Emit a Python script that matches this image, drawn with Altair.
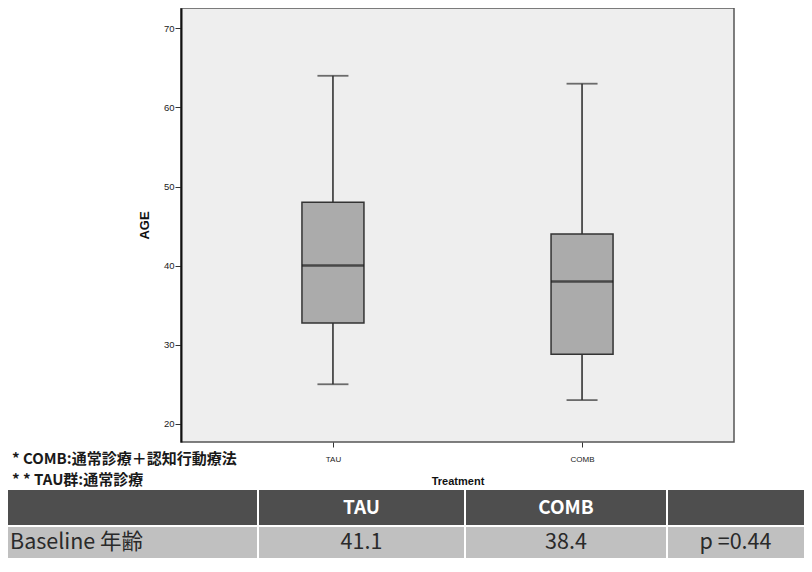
import altair as alt
import pandas as pd

# ---- data ----
treatments = ["TAU", "COMB"]
age_min = [25, 23]
age_q1 = [32.75, 28.8]
age_median = [40, 38]
age_q3 = [48, 44]
age_max = [64, 63]
y_ticks = [20, 30, 40, 50, 60, 70]

note_lines = ["* COMB:通常診療＋認知行動療法", "* * TAU群:通常診療"]
table_header = ["", "TAU", "COMB", ""]
table_row = ["Baseline 年齢", "41.1", "38.4", "p =0.44"]

df = pd.DataFrame({
    "treatment": treatments,
    "min": age_min,
    "q1": age_q1,
    "median": age_median,
    "q3": age_q3,
    "max": age_max,
})

# ---- layout constants (plot-relative pixels) ----
W, H = 553, 434
PAD_L, PAD_R, PAD_B = 173, 70, 116
AX_FONT = "Liberation Sans"
JP_FONT = "Noto Sans CJK JP"

x_enc = alt.X(
    "treatment:N",
    sort=treatments,
    scale=alt.Scale(type="point", padding=0.61),
    axis=alt.Axis(
        title="Treatment", labelAngle=0, labelFont=AX_FONT, labelFontSize=8,
        labelColor="#222", tickSize=5, tickColor="#333", labelPadding=8,
        titleFont=AX_FONT, titleFontSize=11, titleFontWeight="bold",
        titleColor="#111", titlePadding=12, domain=False, grid=False,
    ),
)
y_scale = alt.Scale(domain=[17.7, 72.57], nice=False, zero=False)
y_axis = alt.Axis(
    title="AGE", values=y_ticks, labelFont=AX_FONT, labelFontSize=9.5,
    labelColor="#222", tickSize=6, tickColor="#333", labelPadding=1,
    titleFont=AX_FONT, titleFontSize=13, titleFontWeight="bold",
    titleColor="#111", titlePadding=12, domain=True, domainColor="#111",
    domainWidth=2, grid=False,
)

base = alt.Chart(df)

whisker = base.mark_rule(color="#333", strokeWidth=1.6).encode(
    x=x_enc,
    y=alt.Y("min:Q", scale=y_scale, axis=y_axis),
    y2="max:Q",
)
box = base.mark_bar(size=62, fill="#ababab", stroke="#333", strokeWidth=1.5).encode(
    x=x_enc, y=alt.Y("q1:Q", scale=y_scale), y2="q3:Q"
)
median = base.mark_tick(size=62, thickness=2.5, color="#1e1e1e").encode(
    x=x_enc, y=alt.Y("median:Q", scale=y_scale)
)
cap_lo = base.mark_tick(size=31, thickness=1.8, color="#333").encode(
    x=x_enc, y=alt.Y("min:Q", scale=y_scale)
)
cap_hi = base.mark_tick(size=31, thickness=1.8, color="#333").encode(
    x=x_enc, y=alt.Y("max:Q", scale=y_scale)
)

layers = [whisker, box, median, cap_lo, cap_hi]

# ---- footnotes ----
note_y = [451, 472]
for txt, yy in zip(note_lines, note_y):
    layers.append(
        alt.Chart(pd.DataFrame({"t": [txt]})).mark_text(
            align="left", baseline="middle", font=JP_FONT, fontSize=15,
            fontWeight="bold", color="#1a1a1a",
        ).encode(x=alt.value(-169), y=alt.value(yy), text="t:N")
    )

# ---- table ----
col_edges = [-173, 77, 284, 486, 623]
head_y = (482, 517)
row_y = (519, 550)
for i in range(4):
    x0 = col_edges[i] + (0 if i == 0 else 1)
    x1 = col_edges[i + 1] - (0 if i == 3 else 1)
    for (y0, y1), fill in ((head_y, "#4e4e4e"), (row_y, "#c0c0c0")):
        layers.append(
            alt.Chart(pd.DataFrame({"c": [i]})).mark_rect(fill=fill).encode(
                x=alt.value(x0), x2=alt.value(x1),
                y=alt.value(y0), y2=alt.value(y1),
            )
        )
    cx = (col_edges[i] + col_edges[i + 1]) / 2
    if table_header[i]:
        layers.append(
            alt.Chart(pd.DataFrame({"t": [table_header[i]]})).mark_text(
                align="center", baseline="middle", font=JP_FONT, fontSize=19,
                fontWeight="bold", color="#ffffff",
            ).encode(x=alt.value(cx), y=alt.value(sum(head_y) / 2), text="t:N")
        )
    if i == 0:
        tx, al = col_edges[0] + 2, "left"
    else:
        tx, al = cx, "center"
    layers.append(
        alt.Chart(pd.DataFrame({"t": [table_row[i]]})).mark_text(
            align=al, baseline="middle", font=JP_FONT, fontSize=21.5,
            color="#2a2a2a",
        ).encode(x=alt.value(tx), y=alt.value(sum(row_y) / 2), text="t:N")
    )

chart = alt.layer(*layers).properties(
    width=W, height=H,
    autosize=alt.AutoSizeParams(type="none"),
    padding={"left": PAD_L, "top": 0, "right": PAD_R, "bottom": PAD_B},
    background="#ffffff",
).configure_view(
    fill="#eeeeee", stroke="#555555", strokeWidth=1.5
)

chart.save("out.html", embed_options={"renderer": "svg", "actions": False})
